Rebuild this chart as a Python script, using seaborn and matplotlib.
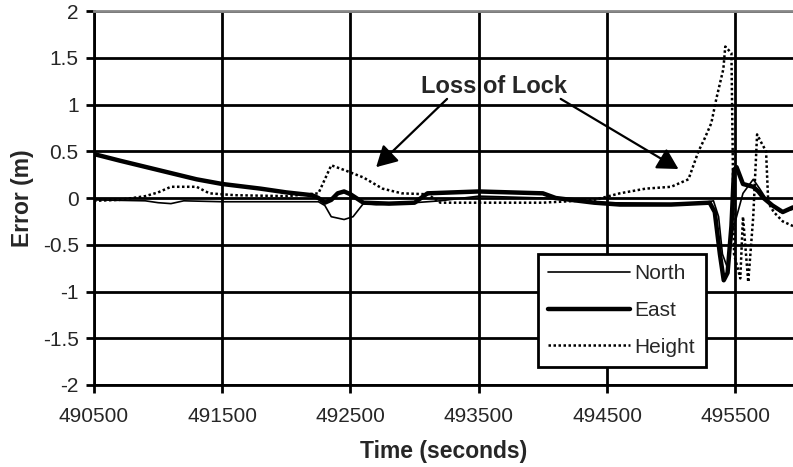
import numpy as np
import pandas as pd
import matplotlib
matplotlib.use("Agg")
import matplotlib.pyplot as plt
import seaborn as sns

# values
north_t = [490500, 490900, 491000, 491100, 491200, 491500, 492000, 492250, 492300,
           492350, 492450, 492520, 492600, 492700, 493000, 493200, 493500, 494000,
           494500, 495000, 495250, 495330, 495370, 495400, 495440, 495480, 495560,
           495640, 495690, 495760, 495850, 495950]
north_v = [-0.02, -0.03, -0.05, -0.06, -0.03, -0.04, -0.04, -0.04, -0.08,
           -0.2, -0.23, -0.2, -0.06, -0.07, -0.05, -0.03, 0.02, 0.0,
           -0.05, -0.06, -0.05, -0.03, -0.2, -0.6, -0.75, -0.35, 0.05,
           0.2, 0.1, -0.05, -0.15, -0.12]

east_t = [490500, 490700, 491000, 491300, 491500, 491800, 492000, 492200, 492250,
          492300, 492350, 492400, 492450, 492500, 492600, 492800, 493000, 493100,
          493500, 494000, 494100, 494400, 494600, 495000, 495300, 495340, 495380,
          495410, 495440, 495470, 495490, 495510, 495560, 495640, 495680, 495720,
          495790, 495870, 495950]
east_v = [0.47, 0.40, 0.30, 0.20, 0.15, 0.10, 0.06, 0.03, 0.0,
          -0.05, -0.02, 0.05, 0.07, 0.04, -0.05, -0.06, -0.05, 0.05,
          0.07, 0.05, 0.0, -0.05, -0.07, -0.07, -0.05, -0.15, -0.6,
          -0.88, -0.8, -0.3, 0.3, 0.33, 0.15, 0.12, 0.07, 0.0,
          -0.08, -0.15, -0.1]

height_t = [490500, 490700, 490900, 491000, 491100, 491300, 491400, 491600, 492000,
            492250, 492300, 492350, 492450, 492600, 492750, 492900, 493100, 493200,
            493500, 494000, 494400, 494600, 494800, 495000, 495135, 495213, 495259,
            495313, 495352, 495407, 495422, 495470, 495490, 495539, 495560, 495601,
            495640, 495670, 495700, 495740, 495757, 495800, 495870, 495950]
height_v = [-0.03, -0.02, 0.02, 0.06, 0.12, 0.12, 0.05, 0.03, 0.02,
            0.05, 0.2, 0.35, 0.3, 0.22, 0.1, 0.05, 0.04, -0.05,
            -0.05, -0.05, -0.02, 0.05, 0.1, 0.12, 0.2, 0.5, 0.63,
            0.8, 1.06, 1.38, 1.62, 1.55, -0.6, -0.86, -0.2, -0.9,
            -0.2, 0.68, 0.6, 0.5, -0.05, -0.15, -0.25, -0.3]

x_ticks = [490500, 491500, 492500, 493500, 494500, 495500]
y_ticks = [-2, -1.5, -1, -0.5, 0, 0.5, 1, 1.5, 2]
y_labels = ['-2', '-1.5', '-1', '-0.5', '0', '0.5', '1', '1.5', '2']

sns.set_style("white")
plt.rcParams['font.family'] = ['Liberation Sans', 'DejaVu Sans']

fig = plt.figure(figsize=(7.93, 4.67), dpi=100)
ax = fig.add_axes([0.1185, 0.1756, 0.8815, 0.8008])

sns.lineplot(x=north_t, y=north_v, ax=ax, color='black', linewidth=1.2, label='North')
sns.lineplot(x=east_t, y=east_v, ax=ax, color='black', linewidth=3.2, label='East')
sns.lineplot(x=height_t, y=height_v, ax=ax, color='black', linewidth=1.8,
             linestyle=(0, (1, 1)), label='Height')

ax.set_xlim(490500, 495950)
ax.set_ylim(-2, 2)
ax.set_xticks(x_ticks)
ax.set_yticks(y_ticks)
ax.set_yticklabels(y_labels)
ax.grid(True, color='black', linewidth=2)
ax.set_axisbelow(True)
ax.spines['right'].set_visible(False)
ax.spines['top'].set_color('#888888')
ax.spines['top'].set_linewidth(2)
for s in ['left', 'bottom']:
    ax.spines[s].set_color('black')
    ax.spines[s].set_linewidth(2)
ax.tick_params(axis='both', which='major', direction='out', length=6, width=2,
               color='black', labelsize=15, bottom=True, left=True)
ax.tick_params(axis='x', pad=10)
ax.tick_params(axis='y', pad=5)

ax.set_xlabel('Time (seconds)', fontsize=16.5, fontweight='bold', labelpad=10)
ax.set_ylabel('Error (m)', fontsize=16.5, fontweight='bold', labelpad=6)

# Loss of Lock annotation with two arrows
ax.text(493618, 1.19, 'Loss of Lock', fontsize=17, fontweight='bold',
        ha='center', va='center')
arrow = dict(arrowstyle='-|>,head_length=0.9,head_width=0.5', color='black',
             lw=1.6, mutation_scale=14, shrinkA=0, shrinkB=0)
ax.annotate('', xy=(492700, 0.33), xytext=(493253, 1.06), arrowprops=arrow)
ax.annotate('', xy=(495057, 0.31), xytext=(494139, 1.06), arrowprops=arrow)

leg = ax.legend(loc='lower left', bbox_to_anchor=(0.635, 0.048), fontsize=15,
                handlelength=3.9, handletextpad=0.25, borderpad=0.5,
                labelspacing=0.85, fancybox=False, framealpha=1,
                borderaxespad=0)
leg.get_frame().set_edgecolor('black')
leg.get_frame().set_linewidth(2)

fig.savefig('out.png', dpi=100)
